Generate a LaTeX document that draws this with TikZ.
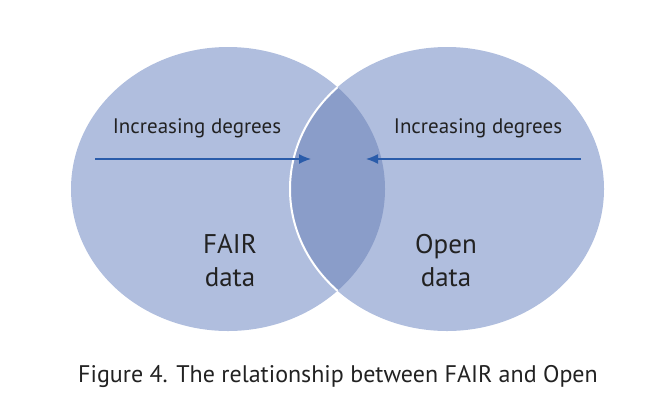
\documentclass[tikz,border=0pt]{standalone}
\usepackage{fontspec}
\setmainfont{PT Sans}
\usetikzlibrary{arrows.meta}
\definecolor{light}{HTML}{B0BEDE}
\definecolor{lens}{HTML}{8A9DC9}
\definecolor{arr}{HTML}{2A5CAA}
\definecolor{txt}{HTML}{222222}
\begin{document}
\begin{tikzpicture}[x=1pt,y=-1pt,
  lbl/.style={text=txt,font=\fontsize{21}{24}\selectfont,inner sep=0},
  big/.style={text=txt,font=\fontsize{27}{33}\selectfont,align=center,inner sep=0},
  ar/.style={draw=arr,line width=1.4pt,-{Latex[length=12pt,width=10pt]}}]
\useasboundingbox (0,0) rectangle (652,400);
\fill[light] (228,189) ellipse [x radius=157, y radius=142];
\fill[light] (447,189) ellipse [x radius=157, y radius=142];
\begin{scope}
\clip (228,189) ellipse [x radius=157, y radius=142];
\fill[lens] (447,189) ellipse [x radius=157, y radius=142];
\draw[white,line width=2pt] (447,189) ellipse [x radius=157, y radius=142];
\end{scope}
\node[lbl] (l1) at (197,128) {Increasing degrees};
\node[lbl] (l2) at (478,128) {Increasing degrees};
\coordinate (a1) at (95,159); \coordinate (b1) at (311,159);
\coordinate (a2) at (581,159); \coordinate (b2) at (366,159);
\draw[ar] (a1) -- (b1);
\draw[ar] (a2) -- (b2);
\node[big] (f) at (230,261) {FAIR\\data};
\node[big] (o) at (446,261) {Open\\data};
\node[text=txt,font=\fontsize{24}{28}\selectfont,inner sep=0] (c) at (338,376) {Figure 4. The relationship between FAIR and Open};
\end{tikzpicture}
\end{document}
